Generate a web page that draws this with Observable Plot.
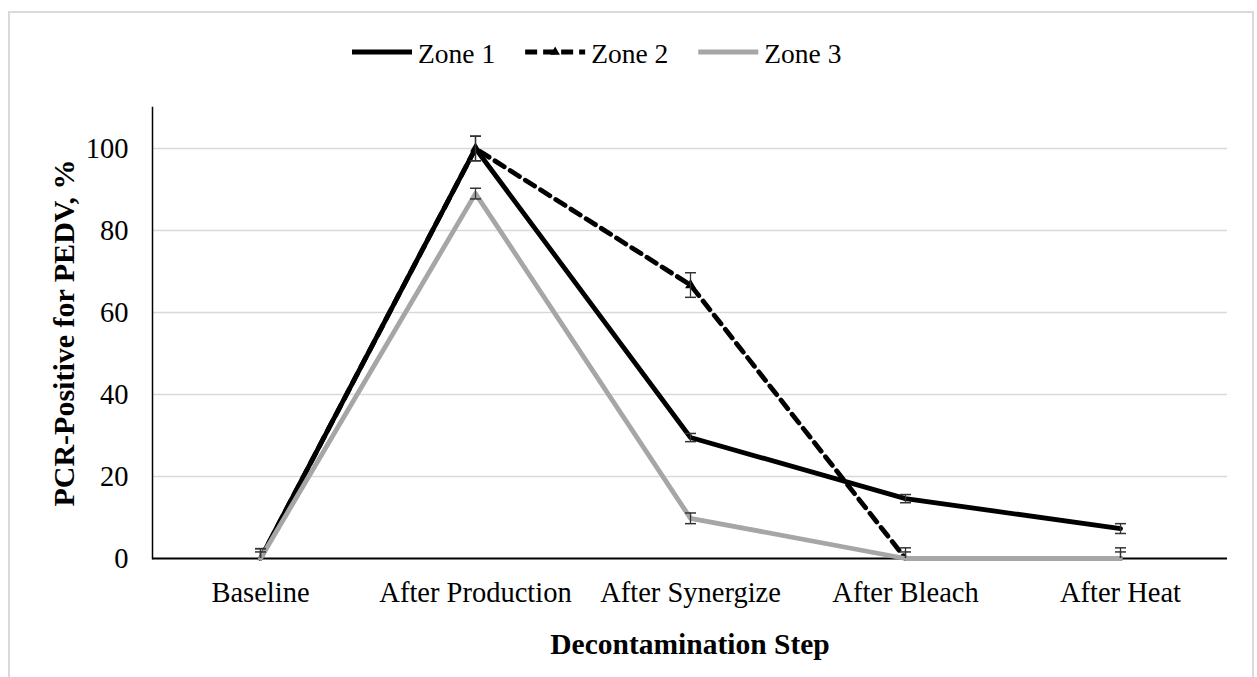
<!DOCTYPE html>
<html><head><meta charset="utf-8">
<script src="https://cdn.jsdelivr.net/npm/d3@7"></script>
<script src="https://cdn.jsdelivr.net/npm/@observablehq/plot@0.6"></script>
<style>
body{margin:0;background:#fff;overflow:hidden}
#wrap{position:relative;width:1257px;height:677px;overflow:hidden;font-family:"Liberation Serif","Times New Roman",serif;background:#fff}
#frame{position:absolute;left:8px;top:11px;width:1246px;height:700px;border:2px solid #d9d9d9;box-sizing:border-box}
#chart{position:absolute;left:0;top:0}
#legend{position:absolute;left:0;top:0}
</style></head><body>
<div id="wrap"><div id="frame"></div><div id="chart"></div><svg id="legend" width="1257" height="90"></svg></div>
<script>
const steps = ["Baseline", "After Production", "After Synergize", "After Bleach", "After Heat"];
const zoneNames = ["Zone 1", "Zone 2", "Zone 3"];
const zone1 = [0, 100, 29.5, 14.6, 7.3];
const zone1Err = [2.4, 3, 1, 1, 1.2];
const zone2 = [0, 100, 66.7, 0, 0];
const zone2Err = [1.6, 3, 3, 1.6, 1.6];
const zone3 = [0, 89, 9.8, 0, 0];
const zone3Err = [2.4, 1.3, 1.3, 2.6, 2.6];
const yTicks = [0, 20, 40, 60, 80, 100];
const gridTicks = [20, 40, 60, 80, 100];
const xTitle = "Decontamination Step";
const yTitle = "PCR-Positive for PEDV, %";

const zoneColors = ["#000000", "#000000", "#a6a6a6"];
const zoneDash = [null, "11,7", null];

const series = [zone1, zone2, zone3];
const errs = [zone1Err, zone2Err, zone3Err];
const rows = [];
series.forEach((vals, zi) => vals.forEach((v, i) => rows.push({zone: zoneNames[zi], step: steps[i], value: v, err: errs[zi][i]})));

const font = "'Liberation Serif','Times New Roman',serif";

// horizontal cap symbol for error bars
const capSymbol = {draw(context, size) { context.moveTo(-5.5, 0); context.lineTo(5.5, 0); }};

const lineMarks = zoneNames.map((z, zi) => Plot.line(rows.filter(d => d.zone === z), {
  x: "step", y: "value", stroke: zoneColors[zi], strokeWidth: 4.8,
  strokeDasharray: zoneDash[zi], strokeLinejoin: "round"
}));

const chart = Plot.plot({
  width: 1257, height: 677,
  marginTop: 107, marginBottom: 119, marginLeft: 152, marginRight: 30,
  style: {fontFamily: font, fontSize: "28.5px", color: "#000", background: "transparent"},
  x: {type: "point", domain: steps, padding: 0.5, label: null, tickSize: 0, tickPadding: 23},
  y: {domain: [0, 110], ticks: yTicks, label: null, tickSize: 0, tickPadding: 24},
  marks: [
    Plot.ruleY(gridTicks, {stroke: "#d9d9d9", strokeWidth: 1.5}),
    Plot.frame({anchor: "left", stroke: "#000", strokeWidth: 1.5}),
    Plot.ruleY([0], {stroke: "#000", strokeWidth: 2}),
    ...lineMarks,
    Plot.dot(rows.filter(d => d.zone === "Zone 2" && d.value > 0), {x: "step", y: "value", symbol: "triangle", r: 4, fill: "#000"}),
    Plot.ruleX(rows, {x: "step", y1: d => Math.max(0, d.value - d.err), y2: d => d.value + d.err, stroke: "#333", strokeWidth: 1.3}),
    Plot.dot(rows, {x: "step", y: d => d.value + d.err, symbol: capSymbol, stroke: "#333", strokeWidth: 1.5, fill: "none"}),
    Plot.dot(rows.filter(d => d.value - d.err > 0), {x: "step", y: d => d.value - d.err, symbol: capSymbol, stroke: "#333", strokeWidth: 1.5, fill: "none"}),
    Plot.text([xTitle], {text: d => d, frameAnchor: "bottom", dy: 95, lineAnchor: "bottom", textAnchor: "middle", fontWeight: "bold", fontSize: 29.5}),
    Plot.text([yTitle], {text: d => d, frameAnchor: "left", dx: -88, rotate: -90, textAnchor: "middle", fontWeight: "bold", fontSize: 30})
  ]
});
document.getElementById("chart").appendChild(chart);

// Legend
const leg = d3.select("#legend");
let x0 = 352;
zoneNames.forEach((z, zi) => {
  const g = leg.append("g");
  g.append("line").attr("x1", x0).attr("x2", x0 + 60).attr("y1", 52).attr("y2", 52)
    .attr("stroke", zoneColors[zi]).attr("stroke-width", 4.8)
    .attr("stroke-dasharray", zoneDash[zi] ? "12,6" : null);
  if (zi === 1) {
    g.append("path").attr("d", d3.symbol(d3.symbolTriangle, 40)()).attr("transform", `translate(${x0 + 30},52)`).attr("fill", "#000");
  }
  const t = g.append("text").attr("x", x0 + 66).attr("y", 63).attr("font-family", font).attr("font-size", 27.5).attr("fill", "#000").text(z);
  const w = t.node().getComputedTextLength();
  x0 = x0 + 66 + w + 30;
});
</script>
</body></html>
